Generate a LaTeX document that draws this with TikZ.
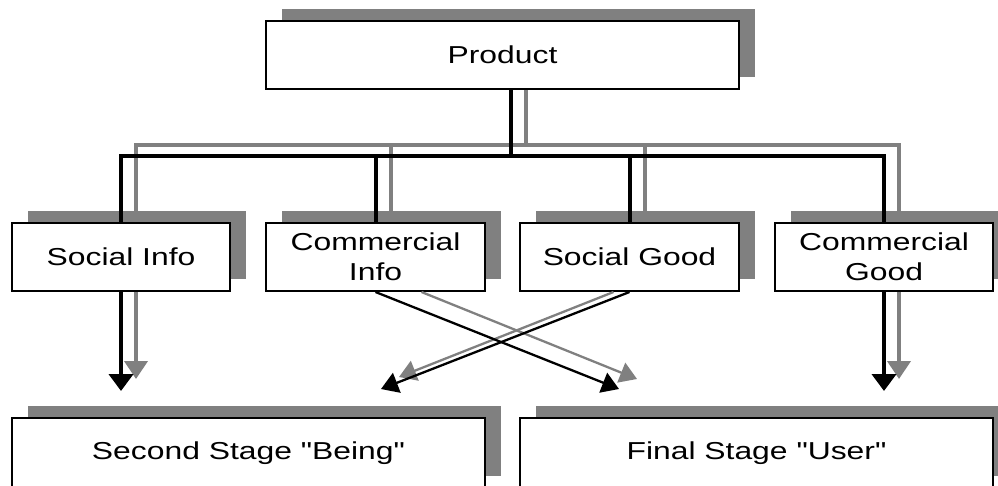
\documentclass[tikz,border=0pt]{standalone}
\usepackage{fontspec}
\setmainfont[FakeStretch=1.3,Ligatures=TeXOff]{Liberation Sans}
\usetikzlibrary{arrows.meta,shadows,calc}
\definecolor{shd}{HTML}{808080}
\begin{document}
\begin{tikzpicture}[x=1pt,y=-1pt,
  box/.style={draw=black,line width=2pt,fill=white,align=center,inner sep=0pt,
    font=\fontsize{24.5}{30}\selectfont,
    general shadow={draw=none,fill=shd,shadow xshift=16pt,shadow yshift=12pt}},
  kline/.style={draw=black,line width=4pt},
  gline/.style={draw=shd,line width=4pt},
  kar/.style={draw=black,line width=4pt,-{Triangle[width=24pt,length=17pt]}},
  gar/.style={draw=shd,line width=4pt,-{Triangle[width=23pt,length=18pt]}},
  kdiag/.style={draw=black,line width=2.3pt,-{Triangle[width=21pt,length=17pt]}},
  gdiag/.style={draw=shd,line width=2.3pt,-{Triangle[width=21pt,length=17pt]}}]
\useasboundingbox (0,0) rectangle (998,485);

\node[box,minimum width=473pt,minimum height=68pt] (prod) at (502.5,55) {Product};
\node[box,minimum width=218pt,minimum height=68pt] (si) at (121,257) {Social Info};
\node[box,minimum width=219pt,minimum height=68pt] (ci) at (375.5,257) {Commercial\\Info};
\node[box,minimum width=219pt,minimum height=68pt] (sg) at (629.5,257) {Social Good};
\node[box,minimum width=218pt,minimum height=68pt] (cg) at (884,257) {Commercial\\Good};
\node[box,minimum width=473pt,minimum height=70pt] (second) at (248.5,453) {\raisebox{-9pt}{Second Stage "Being"}};
\node[box,minimum width=473pt,minimum height=70pt] (final) at (756.5,453) {\raisebox{-9pt}{Final Stage "User"}};

% buses
\coordinate (busK) at (0,156);
\coordinate (busG) at (0,145);
\coordinate (pK) at ([xshift=8.5pt]prod.south);
\coordinate (pG) at ([xshift=23.5pt]prod.south);
\coordinate (siG) at ([xshift=15pt]si.north);
\coordinate (ciG) at ([xshift=15pt]ci.north);
\coordinate (sgG) at ([xshift=15pt]sg.north);
\coordinate (cgG) at ([xshift=15pt]cg.north);

\draw[gline] (pG) -- (pG |- busG) -| (siG);
\draw[gline] (pG) -- (pG |- busG) -| (ciG);
\draw[gline] (pG) -- (pG |- busG) -| (sgG);
\draw[gline] (pG) -- (pG |- busG) -| (cgG);

\draw[kline] (pK) -- (pK |- busK) -| (si.north);
\draw[kline] (pK) -- (pK |- busK) -| (ci.north);
\draw[kline] (pK) -- (pK |- busK) -| (sg.north);
\draw[kline] (pK) -- (pK |- busK) -| (cg.north);

% straight down arrows
\coordinate (siGs) at ([xshift=15pt]si.south);
\coordinate (cgGs) at ([xshift=15pt]cg.south);
\draw[gar,shorten >=38pt] (siGs) -- (siGs |- second.north);
\draw[gar,shorten >=38pt] (cgGs) -- (cgGs |- final.north);
\draw[kar,shorten >=26pt] (si.south) -- (si.south |- second.north);
\draw[kar,shorten >=26pt] (cg.south) -- (cg.south |- final.north);

% crossing arrows
\draw[gdiag] ([xshift=46pt]ci.south) -- ($(final.north west)+(118,-38)$);
\draw[gdiag] ([xshift=-16pt]sg.south) -- ($(second.north west)+(388,-40)$);
\draw[kdiag] (ci.south) -- ($(final.north west)+(100,-28)$);
\draw[kdiag] (sg.south) -- ($(second.north west)+(370,-28)$);
\end{tikzpicture}
\end{document}
